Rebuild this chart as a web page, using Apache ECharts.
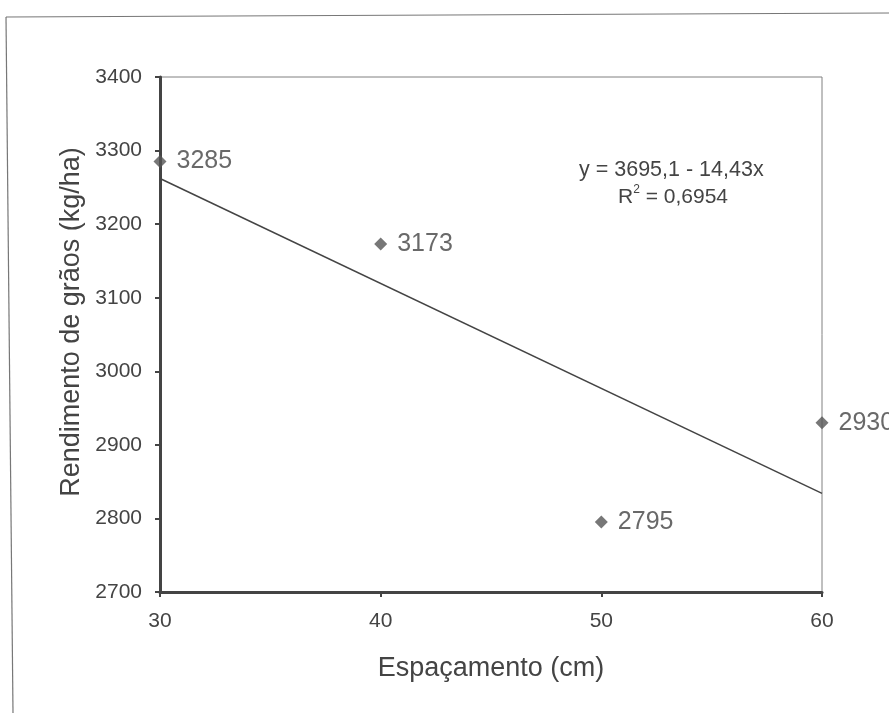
<!DOCTYPE html>
<html>
<head>
<meta charset="utf-8">
<script src="https://cdn.jsdelivr.net/npm/echarts@6/dist/echarts.min.js"></script>
<style>html,body{margin:0;padding:0;background:#fff}#c{width:889px;height:713px}</style>
</head>
<body>
<div id="c"></div>
<script>
var spacing = [30, 40, 50, 60];
var yieldValues = [3285, 3173, 2795, 2930];
var trendX = [30, 60];
var trendY = [3262, 2834];
var xTicks = [30, 40, 50, 60];
var yTicks = [2700, 2800, 2900, 3000, 3100, 3200, 3300, 3400];
var equationText = 'y = 3695,1 - 14,43x';
var r2Text = '0,6954';
var xTitle = 'Espaçamento (cm)';
var yTitle = 'Rendimento de grãos (kg/ha)';

var FONT = '"Liberation Sans", Arial, sans-serif';
var chart = echarts.init(document.getElementById('c'), null, {renderer: 'canvas'});

var pts = spacing.map(function (x, i) { return [x, yieldValues[i]]; });
var trend = trendX.map(function (x, i) { return [x, trendY[i]]; });

chart.setOption({
  animation: false,
  backgroundColor: '#fff',
  textStyle: {fontFamily: FONT},
  grid: {left: 160, right: 67, top: 77, bottom: 121, show: true, borderColor: '#808080', borderWidth: 1},
  xAxis: {
    type: 'value', min: xTicks[0], max: xTicks[xTicks.length - 1], interval: 10,
    name: xTitle, nameLocation: 'middle', nameGap: 63,
    nameTextStyle: {fontSize: 27, color: '#444', fontFamily: FONT},
    axisLine: {show: true, onZero: false, lineStyle: {color: '#444', width: 3}},
    axisTick: {show: true, length: 5, lineStyle: {color: '#444', width: 2}},
    axisLabel: {fontSize: 21, color: '#444', margin: 19, fontFamily: FONT,
      formatter: function (v) { return String(v); }},
    splitLine: {show: false}
  },
  yAxis: {
    type: 'value', min: yTicks[0], max: yTicks[yTicks.length - 1], interval: 100,
    axisLine: {show: true, onZero: false, lineStyle: {color: '#444', width: 3}},
    axisTick: {show: true, length: 5, lineStyle: {color: '#444', width: 2}},
    axisLabel: {fontSize: 21, color: '#444', margin: 18, fontFamily: FONT,
      formatter: function (v) { return String(v); }},
    splitLine: {show: false}
  },
  series: [
    {
      type: 'line', data: trend, symbol: 'none', silent: true, z: 2,
      lineStyle: {color: '#444', width: 1.5}
    },
    {
      type: 'scatter', data: pts, symbol: 'diamond', symbolSize: 13, z: 5,
      itemStyle: {color: '#555'},
      label: {show: true, position: 'right', distance: 10, fontSize: 25, color: '#444', fontFamily: FONT,
        formatter: function (p) { return String(p.value[1]); }}
    }
  ],
  graphic: [
    {type: 'polyline', shape: {points: [[6, 17], [889, 13]]}, style: {stroke: '#777', lineWidth: 1.2, fill: null}},
    {type: 'polyline', shape: {points: [[6, 17], [13, 713]]}, style: {stroke: '#777', lineWidth: 1.2, fill: null}},
    {type: 'text', x: 72, y: 322, rotation: Math.PI / 2,
      style: {text: yTitle, font: '27px ' + FONT, fill: '#444', textAlign: 'center', textVerticalAlign: 'middle'}},
    {type: 'text', left: 579, top: 159, style: {text: equationText, font: '21.5px ' + FONT, fill: '#444'}},
    {type: 'text', left: 618, top: 184, style: {
      text: '{a|R}{s|2}{a| = ' + r2Text + '}',
      rich: {
        a: {fontSize: 21, fontFamily: FONT, fill: '#444', color: '#444', verticalAlign: 'bottom', lineHeight: 24},
        s: {fontSize: 12, fontFamily: FONT, fill: '#444', color: '#444', verticalAlign: 'top', lineHeight: 24, padding: [0, 0, 10, 0]}
      }
    }}
  ]
});
</script>
</body>
</html>
